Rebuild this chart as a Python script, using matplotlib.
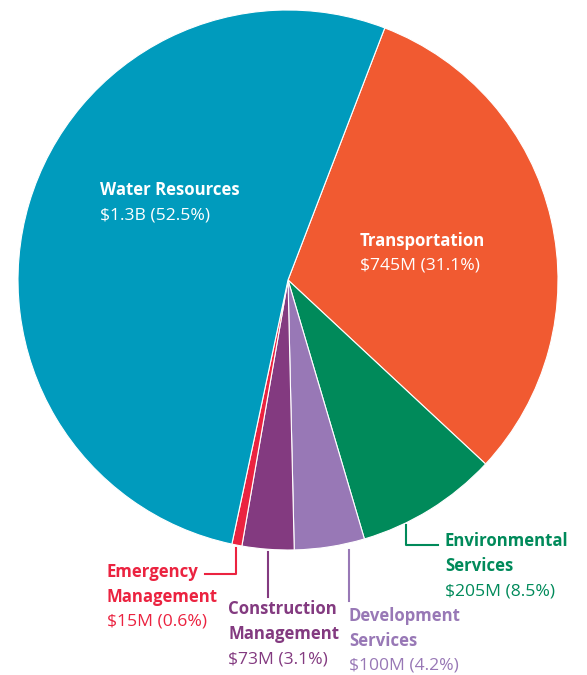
import matplotlib
matplotlib.use("Agg")
import matplotlib.pyplot as plt

categories = ["Transportation", "Environmental Services", "Development Services",
              "Construction Management", "Emergency Management", "Water Resources"]
percents = [31.1, 8.5, 4.2, 3.1, 0.6, 52.5]
amounts = ["$745M", "$205M", "$100M", "$73M", "$15M", "$1.3B"]
colors = ["#F15A31", "#008A5A", "#9878B6", "#833A80", "#EB2340", "#009BBD"]

W, H = 587, 675
fig = plt.figure(figsize=(W/100, H/100), dpi=100)
ax = fig.add_axes([0, 0, 1, 1])
ax.set_xlim(0, W)
ax.set_ylim(0, H)
ax.set_aspect("equal")
ax.axis("off")

def Y(y):
    return H - y

ax.pie(percents, colors=colors, startangle=69, counterclock=False,
       center=(288, Y(280)), radius=270,
       wedgeprops=dict(edgecolor="white", linewidth=0.8))
ax.set_xlim(0, W)
ax.set_ylim(0, H)

FONT = "Open Sans"
LS = 25

def label(x, y, lines, color, nbold):
    for i, t in enumerate(lines):
        bold = i < nbold
        ax.text(x, Y(y + i * LS), t, color=color,
                fontsize=12.1 if bold else 12.6, family=FONT,
                fontweight="bold" if bold else "normal",
                ha="left", va="center")

def fmt(i):
    return f"{amounts[i]} ({percents[i]}%)"

label(100, 190, ["Water Resources", fmt(5)], "white", 1)
label(360, 241, ["Transportation", fmt(0)], "white", 1)
label(445, 541, ["Environmental", "Services", fmt(1)], colors[1], 2)
label(349, 616, ["Development", "Services", fmt(2)], colors[2], 2)
label(228, 609, ["Construction", "Management", fmt(3)], colors[3], 2)
label(107, 572, ["Emergency", "Management", fmt(4)], colors[4], 2)

lw = 1.5
# leader lines
ax.plot([236, 236, 205], [Y(548), Y(574), Y(574)], color=colors[4], lw=lw)
ax.plot([268, 268], [Y(552), Y(597)], color=colors[3], lw=lw)
ax.plot([349, 349], [Y(550), Y(601)], color=colors[2], lw=lw)
ax.plot([406, 406, 438], [Y(525), Y(545), Y(545)], color=colors[1], lw=lw)

fig.savefig("out.png", dpi=100)
